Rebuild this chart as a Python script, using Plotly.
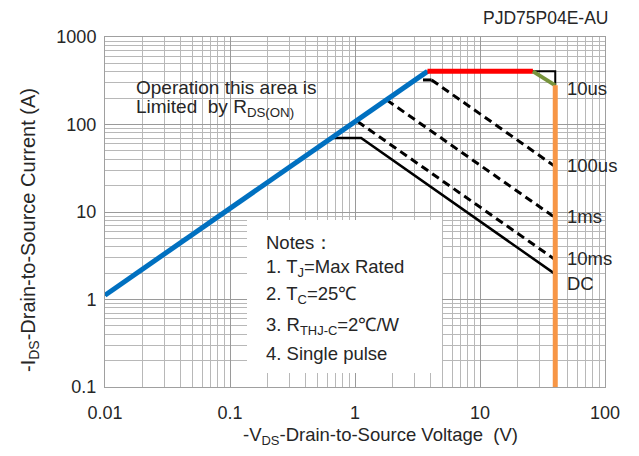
import plotly.graph_objects as go

# ---- data ----
rds_v = [0.01, 3.8]
rds_i = [1.12, 405]
limit_v = [3.8, 26.5]
limit_i = [405, 405]
corner_v = [26.5, 40]
corner_i = [405, 280]
bv_v = [40, 40]
bv_i = [280, 0.1]

us10_v = [3.8, 40, 40]
us10_i = [405, 405, 280]
us100_v = [3.5, 4.1, 40]
us100_i = [323, 323, 33]
ms1_v = [1.8, 40]
ms1_i = [190, 8.6]
ms10_v = [1.05, 40]
ms10_i = [108, 2.85]
dc_v = [0.65, 1.12, 40]
dc_i = [70, 70, 1.95]

x_ticks = [0.01, 0.1, 1, 10, 100]
x_ticktext = ["0.01", "0.1", "1", "10", "100"]
y_ticks = [0.1, 1, 10, 100, 1000]
y_ticktext = ["0.1", "1", "10", "100", "1000"]

curve_labels = ["10us", "100us", "1ms", "10ms", "DC"]
label_y = [88, 165, 217, 258, 283]  # pixel rows of labels (reference image)

notes = ["Notes：", "1. T<sub>J</sub>=Max Rated", "2. T<sub>C</sub>=25℃",
         "3. R<sub>THJ-C</sub>=2℃/W", "4. Single pulse"]
notes_y = [243, 268, 295, 326, 353]

FONT = "Liberation Sans, Arial, sans-serif"
OFF = 8  # page body margin
W, H = 639 - 2 * OFF, 456 - 2 * OFF
L, R, T, B = 105, 605, 37, 387  # plot area in reference pixels


def px_x(px):
    return (px - L) / (R - L)


def px_y(py):
    return (B - py) / (B - T)


fig = go.Figure()

dash = "8px,5px"
fig.add_trace(go.Scatter(x=dc_v, y=dc_i, mode="lines", line=dict(color="black", width=2.5)))
fig.add_trace(go.Scatter(x=ms10_v, y=ms10_i, mode="lines", line=dict(color="black", width=3, dash=dash)))
fig.add_trace(go.Scatter(x=ms1_v, y=ms1_i, mode="lines", line=dict(color="black", width=3, dash=dash)))
fig.add_trace(go.Scatter(x=us100_v[:2], y=us100_i[:2], mode="lines", line=dict(color="black", width=3)))
fig.add_trace(go.Scatter(x=us100_v[1:], y=us100_i[1:], mode="lines", line=dict(color="black", width=3, dash=dash)))
fig.add_trace(go.Scatter(x=us10_v, y=us10_i, mode="lines", line=dict(color="black", width=2)))

fig.add_trace(go.Scatter(x=rds_v, y=rds_i, mode="lines", line=dict(color="#0070C0", width=5)))
fig.add_trace(go.Scatter(x=limit_v, y=limit_i, mode="lines", line=dict(color="#FF0000", width=5)))
fig.add_trace(go.Scatter(x=corner_v, y=corner_i, mode="lines", line=dict(color="#77933C", width=4)))
fig.add_trace(go.Scatter(x=bv_v, y=bv_i, mode="lines", line=dict(color="#F79646", width=5)))

minor_x = [m * 10 ** e for e in range(-2, 2) for m in range(2, 10)]
minor_y = [m * 10 ** e for e in range(-1, 3) for m in range(2, 10)]

TXT = "#262626"
fig.update_xaxes(type="log", range=[-2, 2], tickvals=x_ticks, ticktext=x_ticktext,
                 showgrid=True, gridcolor="#9a9a9a", gridwidth=1.3,
                 minor=dict(tickvals=minor_x, showgrid=True, gridcolor="#b8b8b8", gridwidth=1.3, ticks=""),
                 showline=True, linecolor="#a0a0a0", linewidth=1, mirror=True,
                 ticks="", zeroline=False, ticklabelstandoff=9, automargin=False,
                 tickfont=dict(family=FONT, size=18, color=TXT))
fig.update_yaxes(type="log", range=[-1, 3], tickvals=y_ticks, ticktext=y_ticktext,
                 showgrid=True, gridcolor="#9a9a9a", gridwidth=1.3,
                 minor=dict(tickvals=minor_y, showgrid=True, gridcolor="#b8b8b8", gridwidth=1.3, ticks=""),
                 showline=True, linecolor="#a0a0a0", linewidth=1, mirror=True,
                 ticks="", zeroline=False, ticklabelstandoff=4, automargin=False,
                 tickfont=dict(family=FONT, size=18, color=TXT))

# notes box
fig.add_shape(type="rect", xref="paper", yref="paper",
              x0=px_x(247), x1=px_x(442), y0=px_y(373), y1=px_y(220),
              fillcolor="white", line=dict(width=0), layer="above")

annotations = []
for t, yy in zip(notes, notes_y):
    annotations.append(dict(text=t, xref="paper", yref="paper", x=px_x(264), y=px_y(yy),
                            xanchor="left", yanchor="middle", showarrow=False,
                            font=dict(family=FONT, size=18.5, color=TXT)))
for t, yy in zip(curve_labels, label_y):
    annotations.append(dict(text=t, xref="paper", yref="paper", x=px_x(565), y=px_y(yy),
                            xanchor="left", yanchor="middle", showarrow=False,
                            font=dict(family=FONT, size=18.5, color=TXT)))
annotations.append(dict(text="Operation this area is", xref="paper", yref="paper",
                        x=px_x(134), y=px_y(87), xanchor="left", yanchor="middle", showarrow=False,
                        font=dict(family=FONT, size=19, color=TXT)))
annotations.append(dict(text="Limited  by R<sub>DS(ON)</sub>", xref="paper", yref="paper",
                        x=px_x(134), y=px_y(108), xanchor="left", yanchor="middle", showarrow=False,
                        font=dict(family=FONT, size=19, color=TXT)))
annotations.append(dict(text="PJD75P04E-AU", xref="paper", yref="paper",
                        x=px_x(610), y=px_y(18), xanchor="right", yanchor="middle", showarrow=False,
                        font=dict(family=FONT, size=17.5, color=TXT)))
# axis titles
annotations.append(dict(text="-V<sub>DS</sub>-Drain-to-Source Voltage  (V)", xref="paper", yref="paper",
                        x=px_x(380), y=px_y(436), xanchor="center", yanchor="middle", showarrow=False,
                        font=dict(family=FONT, size=18.5, color=TXT)))
annotations.append(dict(text="-I<sub>DS</sub>-Drain-to-Source Current (A)", xref="paper", yref="paper",
                        x=px_x(30), y=px_y(230), xanchor="center", yanchor="middle", showarrow=False,
                        textangle=-90, font=dict(family=FONT, size=20, color=TXT)))

fig.update_layout(width=W, height=H,
                  margin=dict(l=L - OFF, r=W - (R - OFF), t=T - OFF, b=H - (B - OFF)),
                  plot_bgcolor="white", paper_bgcolor="white", showlegend=False,
                  annotations=annotations)

fig.write_html("out.html")
